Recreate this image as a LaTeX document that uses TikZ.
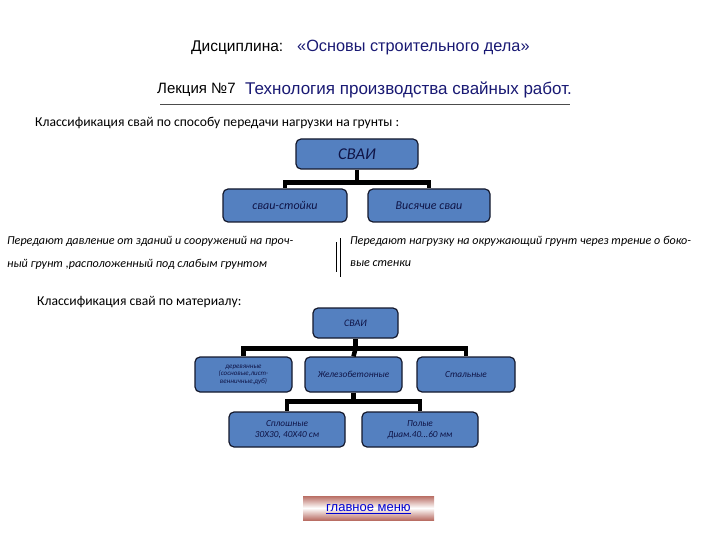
\documentclass[tikz,border=0pt]{standalone}
\usepackage{fontspec}
\setmainfont{Liberation Sans}
\newfontfamily\calfont{Carlito}
\usetikzlibrary{positioning}
\definecolor{pileblue}{RGB}{84,128,192}
\definecolor{pileedge}{RGB}{20,25,45}
\definecolor{titlenavy}{RGB}{25,25,115}
\definecolor{boxtext}{RGB}{15,20,70}
\definecolor{menured}{RGB}{185,110,100}
\definecolor{linkblue}{RGB}{0,0,210}

\begin{document}
\begin{tikzpicture}[x=1pt,y=-1pt,
    pilebox/.style={draw=pileedge, fill=pileblue, line width=1.2pt, rounded corners=5pt,
        inner sep=1pt, align=center, text=boxtext, font=\calfont\itshape\fontsize{9.3}{11}\selectfont},
    link/.style={line width=4.5pt},
    note/.style={anchor=west, inner sep=0pt, font=\calfont\itshape\fontsize{12.1}{13}\selectfont},
    heading/.style={anchor=west, inner sep=0pt, font=\fontsize{15.5}{17}\selectfont},
    caption/.style={anchor=west, inner sep=0pt, font=\calfont\fontsize{13.6}{15}\selectfont}]
        \useasboundingbox (0,0) rectangle (720,540);

        % Заголовок
        \node[heading] (disc) at (191,48) {Дисциплина:};
        \node[heading, text=titlenavy, font=\fontsize{16.3}{18}\selectfont] (course) at (297,48) {«Основы строительного дела»};
        \node[heading, font=\fontsize{15}{17}\selectfont] (lecture) at (157,90) {Лекция №7};
        \node[heading, text=titlenavy, font=\fontsize{17}{19}\selectfont] (topic) at (245,90) {Технология производства свайных работ.};
        \draw[black!70] (160,104) -- (570,104);

        % По способу передачи нагрузки
        \node[caption] (cls1) at (35,123) {Классификация свай по способу передачи нагрузки на грунты :};

        \node[pilebox, minimum width=122pt, minimum height=30pt,
            font=\calfont\itshape\fontsize{16.5}{18}\selectfont] (piles) at (357,154) {СВАИ};
        \node[pilebox, minimum width=124pt, minimum height=33pt,
            font=\calfont\itshape\fontsize{12}{13}\selectfont] (endbearing) at (285,205.5) {сваи-стойки};
        \node[pilebox, minimum width=122pt, minimum height=33pt,
            font=\calfont\itshape\fontsize{12}{13}\selectfont] (friction) at (429,205.5) {Висячие сваи};

        \draw[link] (piles.south) -- ++(0,13) coordinate (fork1) -| (endbearing.north);
        \draw[link] (fork1) -| (friction.north);

        \node[note] (endA) at (7,241) {Передают давление от зданий и сооружений на проч-};
        \node[note] (endB) at (7,264) {ный грунт ,расположенный под слабым грунтом};
        \node[note] (fricA) at (350,241) {Передают нагрузку на окружающий грунт через трение о боко-};
        \node[note] (fricB) at (350,264) {вые стенки};
        \coordinate (barA) at (336,242);
        \coordinate (barB) at (340,238);
        \draw (barA) -- ++(0,30);
        \draw (barB) -- ++(0,39);

        % По материалу
        \node[caption] (cls2) at (37,302) {Классификация свай по материалу:};

        \node[pilebox, minimum width=85pt, minimum height=30pt,
            font=\calfont\itshape\fontsize{10}{11}\selectfont] (piles2) at (355.5,323) {СВАИ};
        \node[pilebox, minimum width=97pt, minimum height=35pt,
            font=\calfont\itshape\fontsize{7}{7.5}\selectfont] (wood) at (243.5,374.5)
            {деревянные\\(сосновые,лист-\\венничные,дуб)};
        \node[pilebox, minimum width=97pt, minimum height=35pt] (concrete) at (353.5,374.5) {Железобетонные};
        \node[pilebox, minimum width=98pt, minimum height=35pt] (steel) at (466,374.5) {Стальные};
        \node[pilebox, minimum width=116pt, minimum height=35pt] (solid) at (287,429.5) {Сплошные\\30Х30, 40Х40 см};
        \node[pilebox, minimum width=116pt, minimum height=35pt] (hollow) at (420,429.5) {Полые\\Диам.40...60 мм};

        \draw[link] (piles2.south) -- ++(0,10) coordinate (fork2) -| (wood.north);
        \draw[link] (fork2) -| (steel.north);
        \draw[link] (fork2) -- (concrete.north);
        \draw[link] (concrete.south) -- ++(0,9) coordinate (fork3) -| (solid.north);
        \draw[link] (fork3) -| (hollow.north);

        % Кнопка
        \shade[top color=menured, bottom color=menured, middle color=white] (303,496) rectangle (434,520);
        \node[inner sep=0pt, text=linkblue, font=\fontsize{13}{14}\selectfont] (menu) at (368.5,508) {главное меню};
        \draw[linkblue, line width=1pt] ([yshift=-2pt]menu.base west) -- ([yshift=-2pt]menu.base east);

    \end{tikzpicture}
\end{document}
